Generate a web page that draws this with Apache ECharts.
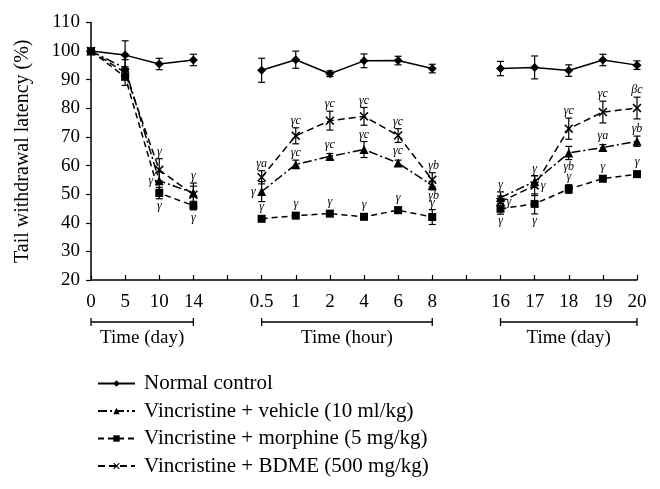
<!DOCTYPE html>
<html><head><meta charset="utf-8">
<script src="https://cdn.jsdelivr.net/npm/echarts@6/dist/echarts.min.js"></script>
<style>html,body{margin:0;padding:0;background:#fff}#c{width:660px;height:489px}</style>
</head><body><div id="c"></div>
<script>
// ---- data ----
const categories = ['0','5','10','14',' ','0.5','1','2','4','6','8','  ','16','17','18','19','20'];
const seriesNames = ['Normal control','Vincristine + vehicle (10 ml/kg)','Vincristine + morphine (5 mg/kg)','Vincristine + BDME (500 mg/kg)'];
const normal   = [100, 98.6, 95.5, 96.9, null, 93.3, 97.0, 92.1, 96.6, 96.7, 93.9, null, 93.9, 94.3, 93.2, 96.9, 95.1];
const normalErr= [0, 5, 2, 2, null, 4.2, 3, 1, 2.4, 1.5, 1.5, null, 2.5, 4, 2, 2, 1.5];
const vehicle   = [100, 94, 54.7, 50.4, null, 50.9, 60.4, 63.2, 65.6, 60.9, 53.0, null, 48.8, 54.4, 64.4, 66.3, 68.5];
const vehicleErr= [0, 3, 3, 3.5, null, 3.5, 1.5, 1, 2.8, 1, 1.5, null, 2, 2, 2.3, 1, 1.8];
const morphine   = [100, 91, 50.4, 46.0, null, 41.4, 42.5, 43.2, 42.1, 44.4, 42.0, null, 44.9, 46.6, 51.8, 55.4, 57.0];
const morphineErr= [0, 3, 2, 1.5, null, 1, 1, 1, 1, 1, 2.6, null, 1.9, 3.5, 1.5, 1, 1];
const bdme   = [100, 92.5, 58.5, 49.8, null, 55.9, 70.4, 75.7, 77.2, 70.5, 55.0, null, 47.3, 53.0, 72.9, 78.7, 80.1];
const bdmeErr= [0, 2, 3.9, 3, null, 2.3, 2.8, 3.3, 3.1, 2.4, 2.5, null, 2, 3.5, 3.7, 3.8, 3.8];
const normalNotes   = ['','','','','','','','','','','','','','','','',''];
const vehicleNotes  = ['','','γ','γ','','γ','γc','γc','γc','γc','γb','','γ','γ','γb','γa','γb'];
const morphineNotes = ['','','γ','γ','','γ','γ','γ','γ','γ','γ','','γ','γ','γ','γ','γ'];
const bdmeNotes     = ['','','γ','','','γa','γc','γc','γc','γc','γb','','γ','γ','γc','γc','βc'];
const groupLabels = ['Time (day)','Time (hour)','Time (day)'];
const groupRanges = [[0,3],[5,10],[12,16]];
const yTicks = {min:20, max:110, interval:10};

// ---- layout / style ----
const FONT = '"Liberation Serif", "Times New Roman", serif';
const notePos = [
  {},
  {2:'l', 5:'l', 10:'br', 14:'b'},
  {2:'b', 3:'b', 12:'b', 13:'b'},
  {10:'tr', 12:'r', 13:'r'}
];
const xPath = 'path://M0,1.2 L1.2,0 L5,3.8 L8.8,0 L10,1.2 L6.2,5 L10,8.8 L8.8,10 L5,6.2 L1.2,10 L0,8.8 L3.8,5 Z';
const symbols = [['diamond',9],['triangle',9],['rect',8],[xPath,9]];
const dashes = ['solid',[9,3,2,3],[6,4],[7,4]];
const values = [normal, vehicle, morphine, bdme];
const errs = [normalErr, vehicleErr, morphineErr, bdmeErr];
const notes = [normalNotes, vehicleNotes, morphineNotes, bdmeNotes];

const chart = echarts.init(document.getElementById('c'));

function errRender(k){
  return function(params, api){
    const i = api.value(0), m = api.value(1), e = api.value(2);
    const pt = api.coord([i, m + e]), pb = api.coord([i, m - e]), pm = api.coord([i, m]);
    const st = {stroke:'#000', lineWidth:1.2};
    const ch = [];
    if (e > 0) {
      ch.push({type:'line', shape:{x1:pt[0],y1:pt[1],x2:pb[0],y2:pb[1]}, style:st});
      ch.push({type:'line', shape:{x1:pt[0]-3.5,y1:pt[1],x2:pt[0]+3.5,y2:pt[1]}, style:st});
      ch.push({type:'line', shape:{x1:pb[0]-3.5,y1:pb[1],x2:pb[0]+3.5,y2:pb[1]}, style:st});
    }
    const txt = notes[k][i];
    if (txt) {
      const pos = notePos[k][i] || 't';
      let x = pm[0], y = pm[1], align = 'center', va = 'middle';
      if (pos === 't') { y = Math.min(pt[1], pm[1]-5) - 1; va = 'bottom'; }
      else if (pos === 'b') { y = Math.max(pb[1], pm[1]+5) + 1; va = 'top'; }
      else if (pos === 'l') { x = pm[0] - 6; align = 'right'; }
      else if (pos === 'r') { x = pm[0] + 6; align = 'left'; }
      else if (pos === 'tr') { x = pm[0] - 4; y = pt[1] - 1; align = 'left'; va = 'bottom'; }
      else if (pos === 'br') { x = pm[0] - 4; y = pm[1] + 4; align = 'left'; va = 'top'; }
      ch.push({type:'text', style:{text:txt, x:x, y:y, align:align, verticalAlign:va,
        font:'italic 12px ' + FONT, fill:'#000'}});
    }
    return {type:'group', children:ch};
  };
}

const series = [];
values.forEach((arr, k) => {
  series.push({
    name: seriesNames[k], type:'line', data: arr, connectNulls:false,
    symbol: symbols[k][0], symbolSize: symbols[k][1], z: 3,
    itemStyle:{color:'#000'},
    lineStyle:{color:'#000', width:1.5, type: dashes[k]},
    animation:false
  });
});
values.forEach((arr, k) => {
  const d = [];
  arr.forEach((v, i) => { if (v !== null) d.push([i, v, errs[k][i]]); });
  series.push({
    name: 'err' + k, type:'custom', data: d, renderItem: errRender(k), z: 4,
    encode:{x:0, y:1}, silent:true, animation:false
  });
});

chart.setOption({
  animation:false,
  backgroundColor:'#fff',
  grid:{left:91, right:23, top:22.5, bottom:209, containLabel:false},
  legend:{
    data: seriesNames, orient:'vertical', left:92, top:368,
    itemWidth:37, itemHeight:8, itemGap:6.5,
    textStyle:{fontFamily:FONT, fontSize:21, color:'#000', padding:[0,0,0,4]}
  },
  xAxis:{
    type:'category', data:categories, boundaryGap:false,
    axisLine:{lineStyle:{color:'#000', width:1.5}},
    axisTick:{inside:true, length:5, interval:0, lineStyle:{color:'#000', width:1.2}},
    axisLabel:{interval:0, fontFamily:FONT, fontSize:19, color:'#000', margin:13},
    splitLine:{show:false}
  },
  yAxis:{
    type:'value', min:yTicks.min, max:yTicks.max, interval:yTicks.interval,
    name:'Tail withdrawal latency (%)', nameLocation:'middle', nameGap:58,
    nameTextStyle:{fontFamily:FONT, fontSize:20, color:'#000'},
    axisLine:{show:true, lineStyle:{color:'#000', width:1.5}},
    axisTick:{show:true, length:5, lineStyle:{color:'#000', width:1.2}},
    axisLabel:{fontFamily:FONT, fontSize:19, color:'#000', margin:11},
    splitLine:{show:false}
  },
  series: series
});

// group brackets under the x axis, placed through the axis scale
const gfx = [];
groupRanges.forEach((r, g) => {
  const x1 = chart.convertToPixel({xAxisIndex:0}, r[0]);
  const x2 = chart.convertToPixel({xAxisIndex:0}, r[1]);
  const y = 322;
  const st = {stroke:'#000', lineWidth:1.3};
  gfx.push({type:'line', shape:{x1:x1,y1:y,x2:x2,y2:y}, style:st});
  gfx.push({type:'line', shape:{x1:x1,y1:y-4,x2:x1,y2:y+4}, style:st});
  gfx.push({type:'line', shape:{x1:x2,y1:y-4,x2:x2,y2:y+4}, style:st});
  gfx.push({type:'text', style:{text:groupLabels[g], x:(x1+x2)/2, y:338, align:'center', verticalAlign:'middle',
    font:'19px ' + FONT, fill:'#000'}});
});
chart.setOption({graphic: gfx});
</script>
</body></html>
